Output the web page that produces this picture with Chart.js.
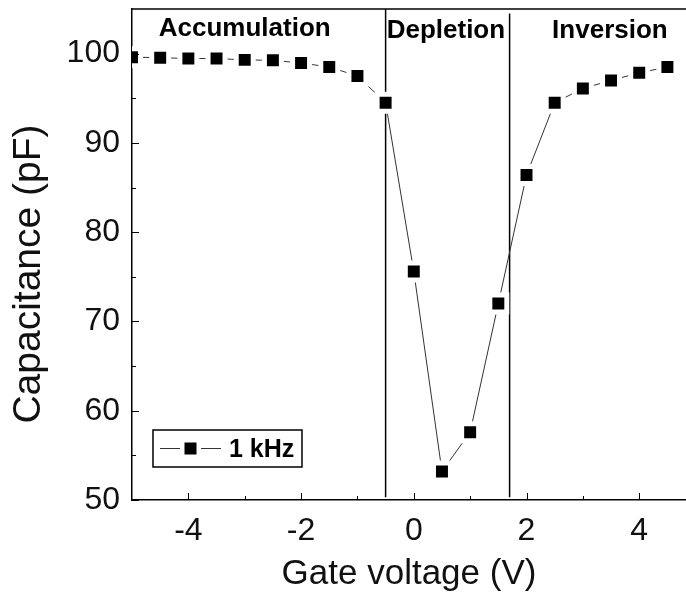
<!DOCTYPE html>
<html>
<head>
<meta charset="utf-8">
<script src="https://cdn.jsdelivr.net/npm/chart.js@4.4.0/dist/chart.umd.min.js"></script>
<style>
  html, body { margin: 0; padding: 0; background: #fff; overflow: hidden; }
  #wrap { width: 686px; height: 595px; }
</style>
</head>
<body>
<div id="wrap"><canvas id="cvChart"></canvas></div>
<script>
// C-V curve at 1 kHz
const gateVoltage = [-5, -4.5, -4, -3.5, -3, -2.5, -2, -1.5, -1, -0.5, 0, 0.5, 1, 1.5, 2, 2.5, 3, 3.5, 4, 4.5];
const capacitance = [99.6, 99.55, 99.45, 99.45, 99.3, 99.25, 98.95, 98.5, 97.5, 94.5, 75.6, 53.2, 57.6, 72.0, 86.4, 94.5, 96.1, 97.0, 97.85, 98.5];
const seriesLabel = "1 kHz";

const xTicks = [-4, -2, 0, 2, 4];
const xMinorTicks = [-3, -1, 1, 3];
const yTicks = [50, 60, 70, 80, 90, 100];
const yMinorTicks = [55, 65, 75, 85, 95];

// region boundaries
const boundaries = [-0.5, 1.7];
const boundaryTop = [105, 104.5];
const boundaryBottom = 50.3;

const regionNames = ["Accumulation", "Depletion", "Inversion"];
const regionX = [-3, 0.57, 3.48];
const regionY = [102.8, 102.5, 102.6];

Chart.defaults.font.family = "'Liberation Sans', Arial, sans-serif";
Chart.defaults.color = "#111";

function drawMarker(ctx, x, y) {
  ctx.fillStyle = "#000";
  ctx.fillRect(x - 6, y - 6, 12, 12);
}

// frame top, inward ticks, region names, legend box
const extras = {
  id: "extras",
  afterDatasetsDraw(chart) {
    const { ctx, chartArea, scales } = chart;
    const xs = scales.x, ys = scales.y;
    ctx.save();

    ctx.strokeStyle = "#000";
    ctx.lineWidth = 1.5;
    ctx.beginPath();
    ctx.moveTo(chartArea.left, chartArea.top);
    ctx.lineTo(chartArea.right, chartArea.top);
    ctx.stroke();

    ctx.lineWidth = 1;
    ctx.beginPath();
    xTicks.forEach(v => {
      const px = Math.round(xs.getPixelForValue(v)) + 0.5;
      ctx.moveTo(px, chartArea.bottom);
      ctx.lineTo(px, chartArea.bottom - 7);
    });
    xMinorTicks.forEach(v => {
      const px = Math.round(xs.getPixelForValue(v)) + 0.5;
      ctx.moveTo(px, chartArea.bottom);
      ctx.lineTo(px, chartArea.bottom - 4);
    });
    yTicks.forEach(v => {
      const py = Math.round(ys.getPixelForValue(v)) + 0.5;
      ctx.moveTo(chartArea.left, py);
      ctx.lineTo(chartArea.left + 7, py);
    });
    yMinorTicks.forEach(v => {
      const py = Math.round(ys.getPixelForValue(v)) + 0.5;
      ctx.moveTo(chartArea.left, py);
      ctx.lineTo(chartArea.left + 4, py);
    });
    ctx.stroke();

    ctx.fillStyle = "#000";
    ctx.font = "bold 26px 'Liberation Sans', Arial, sans-serif";
    ctx.textAlign = "center";
    ctx.textBaseline = "middle";
    regionNames.forEach((name, i) => {
      ctx.fillText(name, xs.getPixelForValue(regionX[i]), ys.getPixelForValue(regionY[i]));
    });

    // legend
    ctx.lineWidth = 1.5;
    ctx.strokeStyle = "#000";
    ctx.strokeRect(153, 430, 149, 37);
    ctx.lineWidth = 1;
    ctx.strokeStyle = "#333";
    ctx.beginPath();
    ctx.moveTo(160, 448.5);
    ctx.lineTo(180, 448.5);
    ctx.moveTo(201, 448.5);
    ctx.lineTo(221, 448.5);
    ctx.stroke();
    drawMarker(ctx, 190.5, 448.5);
    ctx.fillStyle = "#000";
    ctx.font = "bold 25px 'Liberation Sans', Arial, sans-serif";
    ctx.textAlign = "left";
    ctx.fillText(seriesLabel, 229, 450);

    ctx.restore();
  }
};

const boundarySets = boundaries.map((b, i) => ({
  data: [{ x: b, y: boundaryTop[i] }, { x: b, y: boundaryBottom }],
  showLine: true,
  borderColor: "#000",
  borderWidth: 1.5,
  pointRadius: 0
}));

new Chart(document.getElementById("cvChart"), {
  type: "scatter",
  data: {
    datasets: [
      {
        label: seriesLabel,
        data: gateVoltage.map((v, i) => ({ x: v, y: capacitance[i] })),
        showLine: true,
        borderColor: "#333",
        borderWidth: 1,
        pointStyle: "rect",
        pointRadius: 12,
        pointBackgroundColor: "#000",
        pointBorderColor: "#fff",
        pointBorderWidth: 5
      },
      ...boundarySets
    ]
  },
  options: {
    responsive: true,
    maintainAspectRatio: false,
    animation: false,
    events: [],
    layout: { autoPadding: false, padding: { top: 9, right: 0, left: 0, bottom: 0 } },
    plugins: {
      legend: { display: false },
      tooltip: { enabled: false }
    },
    scales: {
      x: {
        type: "linear",
        min: -5,
        max: 4.83,
        afterFit: s => { s.height = 95; s.paddingLeft = 0; s.paddingRight = 0; },
        afterBuildTicks: s => { s.ticks = xTicks.map(v => ({ value: v })); },
        grid: { display: false, drawTicks: false },
        border: { display: true, color: "#000", width: 1.5 },
        ticks: {
          padding: 12,
          font: { size: 32 },
          color: "#111",
          maxRotation: 0,
          callback: v => String(v)
        },
        title: {
          display: true,
          text: "Gate voltage (V)",
          font: { size: 35 },
          color: "#111",
          padding: { top: 0, bottom: 0 }
        }
      },
      y: {
        type: "linear",
        min: 50,
        max: 105,
        afterFit: s => { s.width = 132; s.paddingTop = 0; s.paddingBottom = 0; },
        afterBuildTicks: s => { s.ticks = yTicks.map(v => ({ value: v })); },
        grid: { display: false, drawTicks: false },
        border: { display: true, color: "#000", width: 1.5 },
        ticks: {
          padding: 12,
          font: { size: 32 },
          color: "#111",
          callback: v => String(v)
        },
        title: {
          display: true,
          text: "Capacitance (pF)\u2003",
          font: { size: 39 },
          color: "#111",
          padding: { top: 6, bottom: 0 }
        }
      }
    }
  },
  plugins: [extras]
});
</script>
</body>
</html>
